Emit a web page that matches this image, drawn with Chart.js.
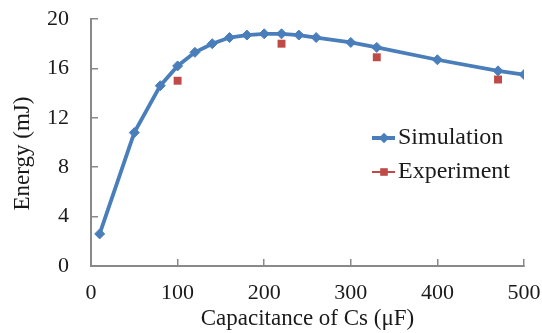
<!DOCTYPE html>
<html>
<head>
<meta charset="utf-8">
<script src="https://cdn.jsdelivr.net/npm/chart.js@4/dist/chart.umd.min.js"></script>
<style>
html,body{margin:0;padding:0;background:#ffffff;}
canvas{display:block;}
</style>
</head>
<body>
<canvas id="chart" width="542" height="333"></canvas>
<script>
// ---- data ----
const simCapacitance = [10, 50, 80, 100, 120, 140, 160, 180, 200, 220, 240, 260, 300, 330, 400, 470, 500];
const simEnergy      = [2.6, 10.8, 14.6, 16.2, 17.3, 18.0, 18.5, 18.7, 18.8, 18.8, 18.7, 18.5, 18.1, 17.7, 16.7, 15.8, 15.5];
const expCapacitance = [100, 220, 330, 470];
const expEnergy      = [15.0, 18.0, 16.9, 15.1];
const seriesNames    = ['Simulation', 'Experiment'];
const xTicks         = [0, 100, 200, 300, 400, 500];
const yTicks         = [0, 4, 8, 12, 16, 20];
const xTitle         = 'Capacitance of Cs (\u03bcF)';
const yTitle         = 'Energy (mJ)';

// ---- styling ----
const FONT = "'Liberation Serif', 'Times New Roman', serif";
const BLUE = '#4a7ebb';
const RED = '#be4b48';
const AXIS = '#898989';
const TEXT = '#1a1a1a';

const toPoints = (xs, ys) => xs.map((x, i) => ({ x: x, y: ys[i] }));

const clearPadding = (s) => {
  s.paddingTop = 0; s.paddingBottom = 0; s.paddingLeft = 0; s.paddingRight = 0;
};

const yTitlePlugin = {
  id: 'yTitlePlugin',
  afterDraw(chart) {
    const ctx = chart.ctx;
    const y = chart.scales.y;
    ctx.save();
    ctx.translate(23, (y.top + y.bottom) / 2 + 11);
    ctx.rotate(-Math.PI / 2);
    ctx.font = '23px ' + FONT;
    ctx.fillStyle = TEXT;
    ctx.textAlign = 'center';
    ctx.textBaseline = 'middle';
    ctx.fillText(yTitle, 0, 0);
    ctx.restore();
  }
};

const legendPlugin = {
  id: 'legendPlugin',
  afterDraw(chart) {
    const ctx = chart.ctx;
    const rows = [138, 172];
    const x0 = 372, x1 = 395, xm = 384, tx = 398;
    chart.data.datasets.forEach((ds, i) => {
      const cy = rows[i];
      ctx.save();
      ctx.strokeStyle = ds.borderColor;
      ctx.lineWidth = i === 0 ? 4 : 2;
      ctx.beginPath();
      ctx.moveTo(x0, cy);
      ctx.lineTo(x1, cy);
      ctx.stroke();
      ctx.fillStyle = ds.pointBackgroundColor;
      ctx.beginPath();
      if (i === 0) {
        const r = 5.3;
        ctx.moveTo(xm, cy - r);
        ctx.lineTo(xm + r, cy);
        ctx.lineTo(xm, cy + r);
        ctx.lineTo(xm - r, cy);
        ctx.closePath();
      } else {
        ctx.rect(xm - 3.8, cy - 3.8, 7.6, 7.6);
      }
      ctx.fill();
      ctx.font = '24px ' + FONT;
      ctx.fillStyle = TEXT;
      ctx.textAlign = 'left';
      ctx.textBaseline = 'middle';
      ctx.fillText(ds.label, tx, cy);
      ctx.restore();
    });
  }
};

new Chart(document.getElementById('chart'), {
  type: 'scatter',
  data: {
    datasets: [
      {
        label: seriesNames[0],
        data: toPoints(simCapacitance, simEnergy),
        showLine: true,
        borderColor: BLUE,
        backgroundColor: BLUE,
        pointBackgroundColor: BLUE,
        pointBorderColor: BLUE,
        borderWidth: 3.8,
        pointStyle: 'rectRot',
        pointRadius: 5,
        pointBorderWidth: 1,
        tension: 0
      },
      {
        label: seriesNames[1],
        data: toPoints(expCapacitance, expEnergy),
        showLine: false,
        borderColor: RED,
        backgroundColor: RED,
        pointBackgroundColor: RED,
        pointBorderColor: RED,
        pointStyle: 'rect',
        pointRadius: 5.6,
        pointBorderWidth: 0
      }
    ]
  },
  options: {
    responsive: false,
    animation: false,
    devicePixelRatio: 1,
    layout: { padding: { left: 0, right: 18, top: 19, bottom: 0 } },
    plugins: {
      legend: { display: false },
      tooltip: { enabled: false }
    },
    scales: {
      x: {
        type: 'linear',
        min: xTicks[0],
        max: xTicks[xTicks.length - 1],
        afterBuildTicks: (s) => { s.ticks = xTicks.map(v => ({ value: v })); },
        afterFit: (s) => { s.height = 67; clearPadding(s); },
        grid: { display: true, drawOnChartArea: false, drawTicks: true, tickLength: -7, color: AXIS, lineWidth: 1.5 },
        border: { display: true, color: AXIS, width: 2 },
        ticks: { color: TEXT, padding: 21, font: { family: FONT, size: 22 }, maxRotation: 0 },
        title: { display: true, text: xTitle, color: TEXT, font: { family: FONT, size: 23 }, padding: { top: 0, bottom: 0 } }
      },
      y: {
        type: 'linear',
        min: yTicks[0],
        max: yTicks[yTicks.length - 1],
        afterBuildTicks: (s) => { s.ticks = yTicks.map(v => ({ value: v })); },
        afterFit: (s) => { s.width = 91; clearPadding(s); },
        grid: { display: true, drawOnChartArea: false, drawTicks: true, tickLength: -7, color: AXIS, lineWidth: 1.5 },
        border: { display: true, color: AXIS, width: 2 },
        ticks: { color: TEXT, padding: 29, font: { family: FONT, size: 22 } },
        title: { display: false }
      }
    }
  },
  plugins: [yTitlePlugin, legendPlugin]
});
</script>
</body>
</html>
